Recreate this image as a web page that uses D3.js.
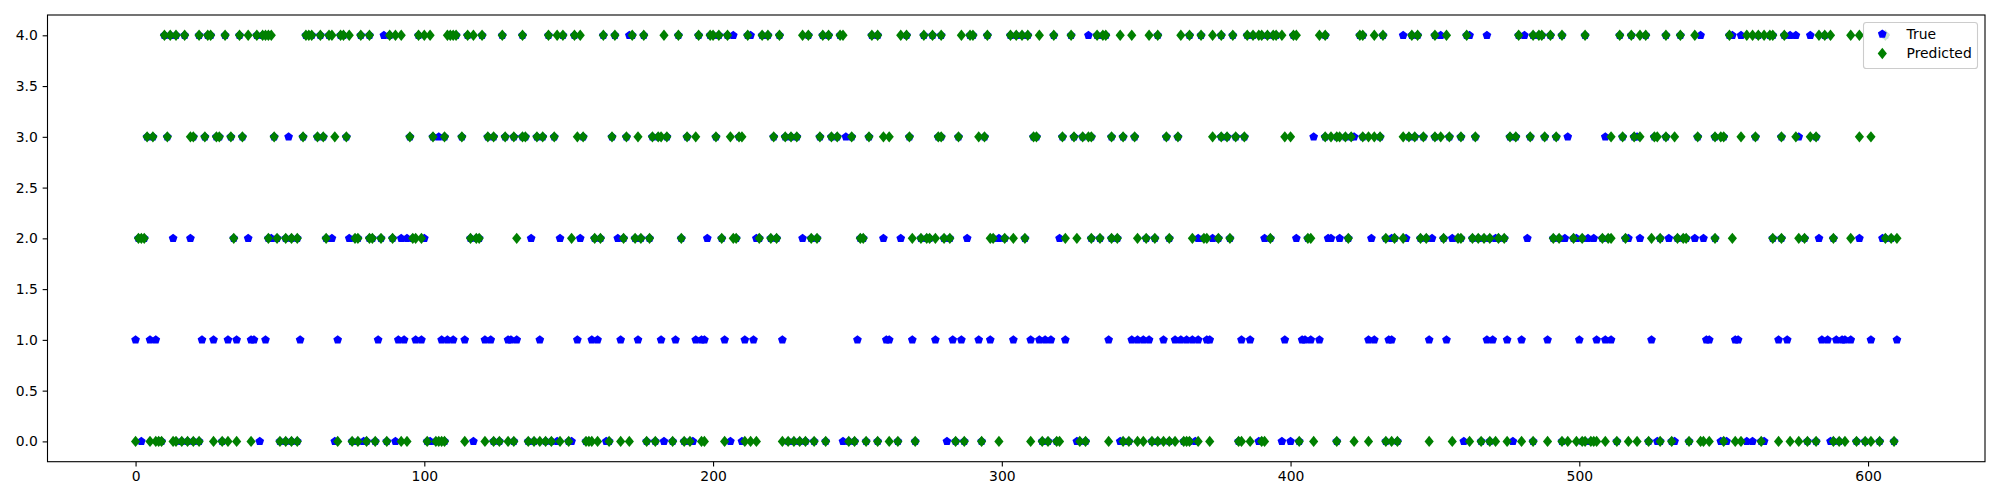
<!DOCTYPE html>
<html><head><meta charset="utf-8">
<script src="https://cdn.jsdelivr.net/npm/d3@7"></script>
<style>html,body{margin:0;padding:0;background:#fff;} svg{display:block;}</style>
</head><body>
<svg id="chart" width="2000" height="500"></svg>
<script>
// ---- data (sample index positions) ----
const lastIndex = 610;
const xTicks = [0, 100, 200, 300, 400, 500, 600];
const yTicks = [0, 0.5, 1, 1.5, 2, 2.5, 3, 3.5, 4];
const seriesNames = ["True", "Predicted"];

// Predicted class per sample: indices where the prediction is 0, 2, 3, 4
const predAt0 = [0,5,7,8,9,13,14,16,18,20,22,27,30,32,35,40,50,52,54,56,70,75,77,80,83,87,92,94,101,104,105,106,107,114,121,124,126,129,131,136,138,140,142,144,147,150,156,157,158,160,164,168,171,177,180,186,190,192,196,197,204,211,213,215,224,226,228,230,232,235,239,247,249,253,257,261,264,270,284,287,293,299,310,314,316,319,320,327,329,337,342,344,347,349,352,354,356,358,360,363,364,365,368,372,382,383,386,390,391,403,408,416,422,427,433,435,437,448,456,462,466,469,471,475,480,484,489,494,496,499,501,502,504,505,506,509,513,517,520,524,528,532,538,542,543,545,550,554,556,563,569,573,576,579,582,588,590,592,596,599,601,604,609];
const predAt2 = [1,2,3,34,46,49,52,54,56,66,76,77,81,82,85,89,96,97,99,116,118,119,132,151,159,161,169,173,175,178,189,203,207,208,216,220,222,234,236,251,252,269,272,274,275,277,280,282,296,297,301,304,308,322,326,331,334,338,340,347,350,353,358,366,370,371,375,379,393,406,407,420,433,436,439,445,447,453,458,459,463,465,467,469,472,474,491,493,498,501,508,510,511,516,525,528,534,536,537,547,553,567,570,576,578,588,594,606,608,610];
const predAt3 = [4,6,11,19,20,24,28,29,33,37,48,58,63,65,69,73,95,103,107,113,122,124,128,131,134,135,139,141,145,153,155,165,170,174,179,181,182,184,191,194,201,206,209,210,221,225,227,229,237,241,243,248,254,259,261,268,278,279,285,292,294,311,312,321,325,328,330,331,338,342,346,357,361,373,376,378,381,384,398,400,412,414,416,417,419,421,425,427,429,431,439,441,443,446,450,452,455,459,464,476,478,483,488,492,511,515,519,521,526,527,530,533,541,547,549,550,556,561,570,575,580,582,597,601];
const predAt4 = [10,12,14,17,22,25,26,31,36,39,42,44,45,46,47,59,60,61,64,67,68,71,72,74,78,81,88,90,92,98,100,102,108,109,110,111,115,117,120,127,134,143,146,148,152,154,162,166,172,176,183,188,195,199,200,202,205,212,217,219,223,231,233,238,240,244,245,255,257,265,267,273,276,279,286,289,290,295,303,305,307,309,313,318,324,333,335,336,341,345,351,354,362,365,369,373,376,380,385,387,389,390,392,394,395,397,401,402,410,412,424,425,429,432,442,444,450,454,461,479,484,486,487,490,494,502,514,518,521,523,530,535,540,552,558,560,562,564,566,567,571,583,585,587,594,597,606];

// True class where it differs from the prediction: indices where the true value is 0,1,2,3,4
const trueAt0 = [2,43,69,79,90,102,117,146,151,163,183,193,206,210,245,281,326,341,367,389,397,400,460,477,527,533,549,551,558,560,564,587];
const trueAt1 = [0,5,7,23,27,32,35,40,41,45,57,70,84,91,93,97,99,106,108,110,114,121,123,129,130,132,140,153,158,160,168,174,182,187,194,196,197,204,211,214,224,250,260,261,269,277,283,286,292,296,304,310,313,315,317,322,337,345,347,349,351,356,360,362,364,366,368,371,372,383,386,398,404,405,407,410,427,429,434,435,448,454,468,470,475,480,489,500,506,509,511,525,544,545,554,555,569,572,584,586,589,591,592,594,601,610];
const trueAt2 = [13,19,39,47,68,74,92,94,100,137,147,154,167,198,215,231,259,265,288,299,320,368,373,391,402,413,414,417,428,435,440,449,456,471,482,495,499,503,505,517,521,531,540,543,583,597,605];
const trueAt3 = [53,105,246,408,422,496,509,520,576];
const trueAt4 = [86,171,207,213,330,439,452,462,468,481,542,553,556,573,575,580];

// ---- build point lists ----
const predPoints = [];
[[predAt0,0],[predAt2,2],[predAt3,3],[predAt4,4]].forEach(([arr,v]) => arr.forEach(i => predPoints.push({i, v})));
const trueVisible = [];
[[trueAt0,0],[trueAt1,1],[trueAt2,2],[trueAt3,3],[trueAt4,4]].forEach(([arr,v]) => arr.forEach(i => trueVisible.push({i, v})));
const mismatch = new Set(trueVisible.map(d => d.i));
// where no differing true value is seen, the true value equals the prediction (hidden under it)
const truePoints = predPoints.filter(d => !mismatch.has(d.i)).map(d => ({i: d.i, v: d.v})).concat(trueVisible);

// ---- layout ----
const L = 47.5, R = 1985, T = 15, B = 461.7;
const svg = d3.select("#chart");
svg.append("rect").attr("width", 2000).attr("height", 500).attr("fill", "#fff");

const x = d3.scaleLinear().domain([-0.05 * lastIndex, 1.05 * lastIndex]).range([L, R]);
const y = d3.scaleLinear().domain([-0.2, 4.2]).range([B, T]);

const blue = "#0000ff", green = "#008000";
function pentagonPath(r) {
  const pts = d3.range(5).map(k => {
    const a = (-90 + 72 * k) * Math.PI / 180;
    return [r * Math.cos(a), r * Math.sin(a)];
  });
  return "M" + pts.map(p => p[0].toFixed(3) + "," + p[1].toFixed(3)).join("L") + "Z";
}
function diamondPath(w, h) {
  return `M0,${-h}L${w},0L0,${h}L${-w},0Z`;
}
const pent = pentagonPath(4.6);
const diam = diamondPath(4.6, 5.7);

svg.append("clipPath").attr("id", "plotclip")
  .append("rect").attr("x", L).attr("y", T).attr("width", R - L).attr("height", B - T);

const plot = svg.append("g").attr("clip-path", "url(#plotclip)");
plot.append("g").selectAll("path").data(truePoints).join("path")
  .attr("d", pent)
  .attr("transform", d => `translate(${x(d.i)},${y(d.v)})`)
  .attr("fill", blue);
plot.append("g").selectAll("path").data(predPoints).join("path")
  .attr("d", diam)
  .attr("transform", d => `translate(${x(d.i)},${y(d.v)})`)
  .attr("fill", green);

// ---- axes ----
const font = "DejaVu Sans";
const fs = 13.9;
const xAxis = svg.append("g").attr("transform", `translate(0,${B})`)
  .call(d3.axisBottom(x).tickValues(xTicks).tickFormat(d3.format("d")).tickSize(4.86).tickPadding(4.86));
const yAxis = svg.append("g").attr("transform", `translate(${L},0)`)
  .call(d3.axisLeft(y).tickValues(yTicks).tickFormat(d3.format(".1f")).tickSize(4.86).tickPadding(4.86));
[xAxis, yAxis].forEach(g => {
  g.select(".domain").remove();
  g.selectAll(".tick line").attr("stroke", "#000").attr("stroke-width", 1.1);
  g.selectAll(".tick text").attr("fill", "#000").style("font-family", font).style("font-size", fs + "px");
});

svg.append("rect").attr("x", L).attr("y", T).attr("width", R - L).attr("height", B - T)
  .attr("fill", "none").attr("stroke", "#000").attr("stroke-width", 1.1);

// ---- legend ----
const lg = svg.append("g");
lg.append("rect").attr("x", 1863.5).attr("y", 22.5).attr("width", 114).attr("height", 46)
  .attr("rx", 2.8).attr("fill", "#fff").attr("fill-opacity", 0.8)
  .attr("stroke", "#cccccc").attr("stroke-width", 1.1);
lg.append("path").attr("d", pent).attr("transform", "translate(1882.3,34)")
  .attr("fill", blue);
lg.append("path").attr("d", diam).attr("transform", "translate(1882.3,53.5)")
  .attr("fill", green);
lg.selectAll("text").data(seriesNames).join("text")
  .attr("x", 1906.5).attr("y", (d, k) => 38.8 + k * 19.6)
  .attr("fill", "#000").style("font-family", font).style("font-size", fs + "px")
  .text(d => d);
</script>
</body></html>
